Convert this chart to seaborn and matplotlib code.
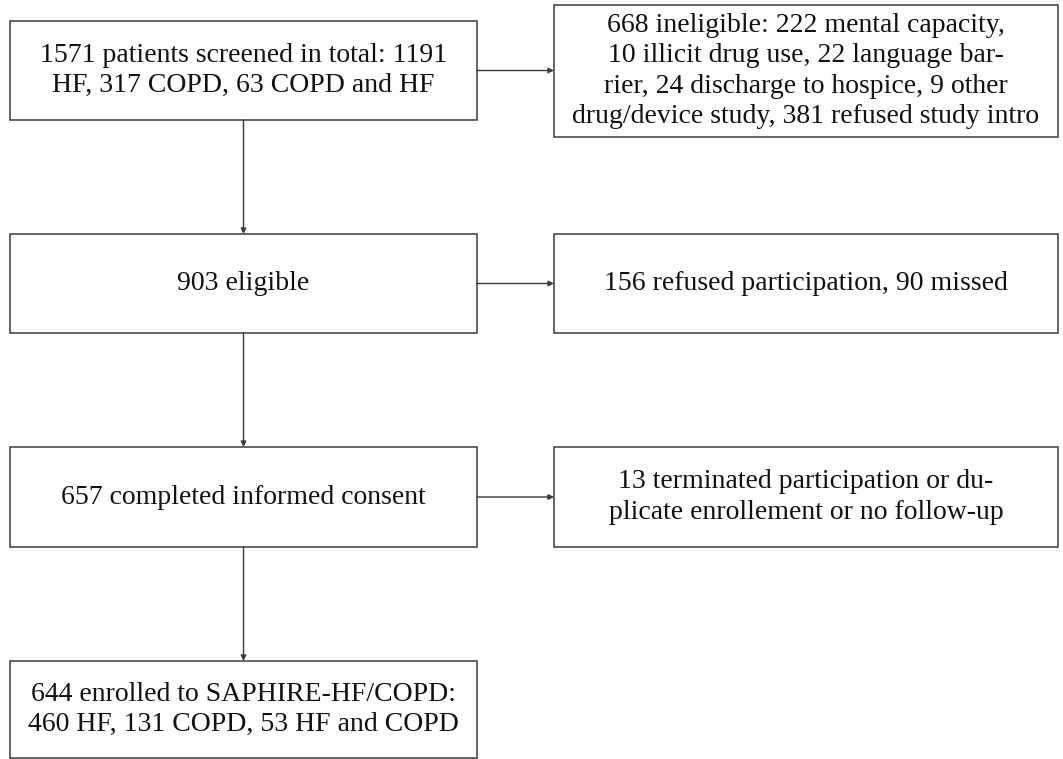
import matplotlib
matplotlib.use("Agg")
import matplotlib.pyplot as plt
from matplotlib.patches import Rectangle
import seaborn as sns

# flowchart text
main_steps = [
    "1571 patients screened in total: 1191\nHF, 317 COPD, 63 COPD and HF",
    "903 eligible",
    "657 completed informed consent",
    "644 enrolled to SAPHIRE-HF/COPD:\n460 HF, 131 COPD, 53 HF and COPD",
]
side_steps = [
    "668 ineligible: 222 mental capacity,\n10 illicit drug use, 22 language bar-\nrier, 24 discharge to hospice, 9 other\ndrug/device study, 381 refused study intro",
    "156 refused participation, 90 missed",
    "13 terminated participation or du-\nplicate enrollement or no follow-up",
]

# layout in pixel space (x0, y0, x1, y1)
main_boxes = [(10, 21, 477, 120), (10, 234, 477, 333), (10, 447, 477, 547), (10, 661, 477, 758)]
side_boxes = [(554, 5, 1058, 137), (554, 234, 1058, 333), (554, 447, 1058, 547)]

sns.set_style("white")
plt.rcParams['font.family'] = ['Liberation Serif', 'DejaVu Serif']

fig = plt.figure(figsize=(10.63, 7.59), dpi=100)
ax = fig.add_axes([0, 0, 1, 1])
ax.set_xlim(0, 1063)
ax.set_ylim(759, 0)
ax.axis('off')

edge = '#3a3a3a'


def draw_box(b, text):
    x0, y0, x1, y1 = b
    ax.add_patch(Rectangle((x0, y0), x1 - x0, y1 - y0, fill=False, ec=edge, lw=1.1))
    ax.text((x0 + x1) / 2, (y0 + y1) / 2, text, ha='center', va='center',
            fontsize=20, linespacing=1.28, color='#111111')


def arrow(x0, y0, x1, y1):
    ax.annotate('', xy=(x1, y1), xytext=(x0, y0),
                arrowprops=dict(arrowstyle='-|>', color=edge, lw=1.0,
                                mutation_scale=8, shrinkA=0, shrinkB=0))


for b, t in zip(main_boxes, main_steps):
    draw_box(b, t)
for b, t in zip(side_boxes, side_steps):
    draw_box(b, t)

# vertical arrows between main boxes
for a, b in zip(main_boxes[:-1], main_boxes[1:]):
    cx = (a[0] + a[2]) / 2
    arrow(cx, a[3], cx, b[1])

# horizontal arrows to side boxes
for a, s in zip(main_boxes, side_boxes):
    cy = (a[1] + a[3]) / 2
    arrow(a[2], cy, s[0], cy)

fig.savefig('out.png', dpi=100)
